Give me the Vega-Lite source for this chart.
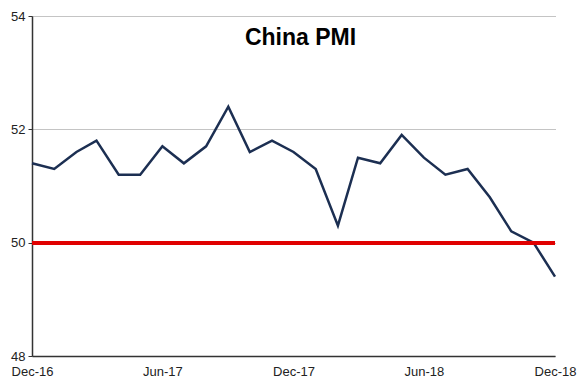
{
  "$schema": "https://vega.github.io/schema/vega-lite/v6.json",
  "width": 523,
  "height": 340,
  "autosize": {"type": "none"},
  "padding": {"left": 32, "top": 16, "right": 31, "bottom": 33},
  "background": "white",
  "config": {
    "view": {"stroke": null},
    "font": "Liberation Sans",
    "axis": {
      "domainColor": "#333",
      "domainWidth": 1.5,
      "labelFont": "Liberation Sans",
      "labelFontSize": 13,
      "labelColor": "#222",
      "title": null
    },
    "axisX": {
      "grid": false,
      "ticks": false,
      "labelPadding": 9,
      "labelFlush": false
    },
    "axisY": {
      "grid": true,
      "gridColor": "#888",
      "gridDash": [1, 1],
      "gridWidth": 1,
      "tickColor": "#333",
      "tickSize": 4,
      "labelPadding": 3
    }
  },
  "title": {
    "text": "China PMI",
    "fontSize": 23,
    "fontWeight": "bold",
    "font": "Liberation Sans",
    "color": "black",
    "anchor": "middle",
    "orient": "top",
    "offset": -40,
    "dx": 7
  },
  "data": {
    "values": [
      {"date": "2016-12-01", "pmi": 51.4},
      {"date": "2017-01-01", "pmi": 51.3},
      {"date": "2017-02-01", "pmi": 51.6},
      {"date": "2017-03-01", "pmi": 51.8},
      {"date": "2017-04-01", "pmi": 51.2},
      {"date": "2017-05-01", "pmi": 51.2},
      {"date": "2017-06-01", "pmi": 51.7},
      {"date": "2017-07-01", "pmi": 51.4},
      {"date": "2017-08-01", "pmi": 51.7},
      {"date": "2017-09-01", "pmi": 52.4},
      {"date": "2017-10-01", "pmi": 51.6},
      {"date": "2017-11-01", "pmi": 51.8},
      {"date": "2017-12-01", "pmi": 51.6},
      {"date": "2018-01-01", "pmi": 51.3},
      {"date": "2018-02-01", "pmi": 50.3},
      {"date": "2018-03-01", "pmi": 51.5},
      {"date": "2018-04-01", "pmi": 51.4},
      {"date": "2018-05-01", "pmi": 51.9},
      {"date": "2018-06-01", "pmi": 51.5},
      {"date": "2018-07-01", "pmi": 51.2},
      {"date": "2018-08-01", "pmi": 51.3},
      {"date": "2018-09-01", "pmi": 50.8},
      {"date": "2018-10-01", "pmi": 50.2},
      {"date": "2018-11-01", "pmi": 50.0},
      {"date": "2018-12-01", "pmi": 49.4}
    ]
  },
  "layer": [
    {
      "mark": {"type": "line", "color": "#1c2f52", "strokeWidth": 2.5},
      "encoding": {
        "x": {
          "field": "date",
          "type": "temporal",
          "scale": {"type": "utc", "domain": [{"year": 2016, "month": 12, "date": 1, "utc": true}, {"year": 2018, "month": 12, "date": 1, "utc": true}]},
          "axis": {
            "values": [
              {"year": 2016, "month": 12, "date": 1, "utc": true},
              {"year": 2017, "month": 6, "date": 1, "utc": true},
              {"year": 2017, "month": 12, "date": 1, "utc": true},
              {"year": 2018, "month": 6, "date": 1, "utc": true},
              {"year": 2018, "month": 12, "date": 1, "utc": true}
            ],
            "labelExpr": "utcFormat(datum.value, '%b-%y')"
          }
        },
        "y": {
          "field": "pmi",
          "type": "quantitative",
          "scale": {"domain": [48, 54], "nice": false, "zero": false},
          "axis": {
            "values": [48, 50, 52, 54],
            "labelExpr": "format(datum.value, 'd')"
          }
        }
      }
    },
    {
      "mark": {"type": "rule", "color": "#e00000", "strokeWidth": 3},
      "encoding": {"y": {"datum": 50, "type": "quantitative"}}
    }
  ]
}
